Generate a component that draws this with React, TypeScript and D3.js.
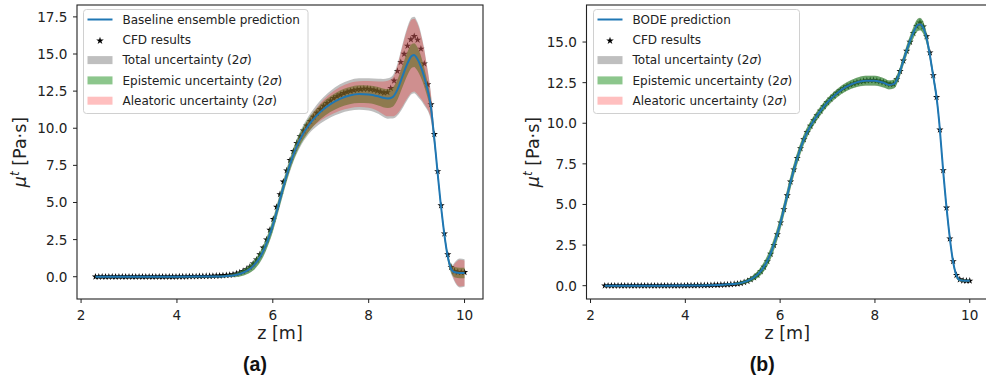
import React from 'react';
import * as d3 from 'd3';

// ---------- data ----------
const cfdZ = [
  2.30, 2.37, 2.44, 2.51, 2.58, 2.65, 2.72, 2.79, 2.86, 2.93, 3.00, 3.07, 3.14, 3.21, 3.28, 3.35, 3.42, 3.49, 3.56, 3.63,
  3.70, 3.77, 3.84, 3.91, 3.98, 4.05, 4.12, 4.19, 4.26, 4.33, 4.40, 4.47, 4.54, 4.61, 4.68, 4.75, 4.82, 4.89, 4.96, 5.03,
  5.10, 5.17, 5.24, 5.31, 5.38, 5.45, 5.52, 5.59, 5.66, 5.73, 5.80, 5.87, 5.94, 6.01, 6.08, 6.15, 6.22, 6.29, 6.36, 6.43,
  6.50, 6.57, 6.64, 6.71, 6.78, 6.85, 6.92, 6.99, 7.06, 7.13, 7.20, 7.27, 7.34, 7.41, 7.48, 7.55, 7.62, 7.69, 7.76, 7.83,
  7.90, 7.97, 8.04, 8.11, 8.18, 8.25, 8.32, 8.39, 8.46, 8.53, 8.60, 8.67, 8.74, 8.81, 8.88, 8.95, 9.02, 9.09, 9.16, 9.23,
  9.30, 9.37, 9.44, 9.51, 9.58, 9.65, 9.72, 9.79, 9.86, 9.93, 10.00,
];
const cfdMu = [
  0, 0, 0, 0, 0, 0, 0, 0, 0, 0, 0, 0, 0, 0, 0, 0, 0, 0, 0, 0,
  0, 0, 0, 0, 0, 0.01, 0.01, 0.01, 0.02, 0.02, 0.02, 0.03, 0.03, 0.04, 0.04, 0.05, 0.06, 0.07, 0.08, 0.1,
  0.12, 0.15, 0.21, 0.28, 0.38, 0.5, 0.66, 0.88, 1.15, 1.5, 1.95, 2.5, 3.15, 3.88, 4.7, 5.55, 6.4, 7.15, 7.85, 8.45,
  9.0, 9.45, 9.83, 10.17, 10.48, 10.76, 11.03, 11.28, 11.5, 11.69, 11.86, 12.02, 12.15, 12.26, 12.36, 12.44, 12.51, 12.56, 12.6, 12.63,
  12.65, 12.65, 12.62, 12.58, 12.52, 12.45, 12.39, 12.42, 12.7, 13.2, 13.85, 14.45, 15.0, 15.55, 15.98, 16.2, 15.95, 15.35, 14.35, 12.95,
  11.6, 9.6, 7.1, 4.8, 2.9, 1.5, 0.65, 0.38, 0.31, 0.3, 0.3,
];

const predZ = [
  2.3, 3.0, 3.5, 4.0, 4.5, 4.8, 5.0, 5.2, 5.4, 5.5, 5.6, 5.7, 5.8, 5.9, 6.0, 6.1, 6.2, 6.3, 6.4, 6.5,
  6.6, 6.7, 6.8, 6.9, 7.0, 7.2, 7.4, 7.6, 7.8, 8.0, 8.2, 8.3, 8.4, 8.5, 8.6, 8.7, 8.8, 8.9, 8.95, 9.0,
  9.05, 9.1, 9.15, 9.2, 9.25, 9.3, 9.35, 9.4, 9.45, 9.5, 9.55, 9.6, 9.65, 9.7, 9.75, 9.8, 9.9, 10.0,
];

// (a) baseline ensemble
const baseMean = [
  0, 0, 0, 0, 0.01, 0.02, 0.04, 0.1, 0.3, 0.48, 0.75, 1.15, 1.72, 2.5, 3.45, 4.6, 5.8, 6.95, 7.95, 8.78,
  9.45, 9.98, 10.43, 10.8, 11.12, 11.62, 11.98, 12.2, 12.3, 12.28, 12.15, 12.05, 12.0, 12.1, 12.6, 13.45, 14.3, 14.88, 14.93, 14.75,
  14.45, 14.05, 13.55, 12.95, 12.3, 11.4, 9.9, 8.3, 6.6, 5.0, 3.6, 2.35, 1.35, 0.7, 0.38, 0.3, 0.25, 0.25,
];
const baseEpi = [
  0.03, 0.03, 0.03, 0.03, 0.04, 0.05, 0.07, 0.12, 0.2, 0.25, 0.3, 0.33, 0.36, 0.38, 0.4, 0.4, 0.4, 0.4, 0.4, 0.42,
  0.43, 0.45, 0.46, 0.48, 0.5, 0.53, 0.56, 0.58, 0.6, 0.6, 0.62, 0.63, 0.64, 0.65, 0.68, 0.73, 0.78, 0.8, 0.8, 0.8,
  0.77, 0.72, 0.65, 0.57, 0.5, 0.42, 0.35, 0.3, 0.27, 0.25, 0.25, 0.25, 0.25, 0.25, 0.3, 0.35, 0.35, 0.35,
];
const baseAle = [
  0.02, 0.02, 0.02, 0.02, 0.02, 0.03, 0.04, 0.06, 0.08, 0.1, 0.12, 0.13, 0.14, 0.15, 0.16, 0.18, 0.2, 0.22, 0.25, 0.28,
  0.32, 0.38, 0.45, 0.52, 0.6, 0.72, 0.8, 0.85, 0.87, 0.9, 1.0, 1.1, 1.2, 1.3, 1.6, 2.0, 2.3, 2.45, 2.45, 2.4,
  2.3, 2.1, 1.85, 1.5, 1.15, 0.8, 0.5, 0.3, 0.2, 0.15, 0.13, 0.12, 0.12, 0.15, 0.3, 0.6, 0.9, 0.85,
];
const baseTot = [
  0.04, 0.04, 0.04, 0.04, 0.05, 0.06, 0.08, 0.13, 0.22, 0.27, 0.32, 0.35, 0.39, 0.41, 0.43, 0.44, 0.45, 0.46, 0.47, 0.5,
  0.54, 0.59, 0.64, 0.71, 0.78, 0.89, 0.98, 1.03, 1.06, 1.08, 1.18, 1.27, 1.36, 1.45, 1.74, 2.13, 2.43, 2.58, 2.58, 2.53,
  2.43, 2.22, 1.96, 1.6, 1.25, 0.9, 0.61, 0.42, 0.34, 0.29, 0.28, 0.28, 0.28, 0.29, 0.42, 0.69, 0.97, 0.92,
];

// (b) BODE
const bodeMean = [
  0, 0, 0, 0.01, 0.03, 0.06, 0.1, 0.19, 0.42, 0.62, 0.93, 1.37, 1.99, 2.82, 3.8, 4.95, 6.15, 7.25, 8.2, 9.0,
  9.62, 10.12, 10.56, 10.95, 11.3, 11.85, 12.25, 12.5, 12.62, 12.62, 12.47, 12.36, 12.42, 12.95, 13.85, 14.75, 15.5, 16.05, 16.1, 15.98,
  15.65, 15.1, 14.35, 13.45, 12.55, 11.6, 10.25, 8.5, 6.7, 5.1, 3.7, 2.45, 1.45, 0.8, 0.45, 0.34, 0.3, 0.3,
];
const bodeEpi = [
  0.03, 0.03, 0.03, 0.03, 0.04, 0.05, 0.06, 0.1, 0.15, 0.2, 0.25, 0.3, 0.35, 0.38, 0.4, 0.4, 0.4, 0.38, 0.35, 0.32,
  0.3, 0.28, 0.27, 0.26, 0.25, 0.25, 0.26, 0.28, 0.3, 0.3, 0.28, 0.27, 0.27, 0.28, 0.3, 0.32, 0.34, 0.37, 0.38, 0.37,
  0.35, 0.33, 0.3, 0.28, 0.27, 0.27, 0.27, 0.27, 0.27, 0.27, 0.25, 0.22, 0.18, 0.14, 0.1, 0.07, 0.06, 0.06,
];
const bodeAle = [
  0.02, 0.02, 0.02, 0.02, 0.02, 0.02, 0.02, 0.04, 0.04, 0.04, 0.04, 0.04, 0.04, 0.04, 0.06, 0.06, 0.06, 0.06, 0.06, 0.06,
  0.06, 0.06, 0.06, 0.06, 0.06, 0.06, 0.06, 0.06, 0.06, 0.06, 0.06, 0.06, 0.06, 0.06, 0.06, 0.06, 0.06, 0.08, 0.08, 0.08,
  0.08, 0.08, 0.08, 0.08, 0.08, 0.08, 0.06, 0.06, 0.06, 0.06, 0.06, 0.06, 0.06, 0.06, 0.04, 0.04, 0.04, 0.04,
];
const bodeTot = [
  0.04, 0.04, 0.04, 0.04, 0.05, 0.05, 0.06, 0.11, 0.16, 0.2, 0.25, 0.3, 0.35, 0.38, 0.4, 0.4, 0.4, 0.38, 0.36, 0.33,
  0.31, 0.29, 0.28, 0.27, 0.26, 0.26, 0.27, 0.29, 0.31, 0.31, 0.29, 0.28, 0.28, 0.29, 0.31, 0.33, 0.35, 0.38, 0.39, 0.38,
  0.36, 0.34, 0.31, 0.29, 0.28, 0.28, 0.28, 0.28, 0.28, 0.28, 0.26, 0.23, 0.19, 0.15, 0.11, 0.08, 0.07, 0.07,
];

const xTicks = [2, 4, 6, 8, 10];
const yTicksA = [0, 2.5, 5, 7.5, 10, 12.5, 15, 17.5];
const yTicksB = [0, 2.5, 5, 7.5, 10, 12.5, 15];
const legendLabelsA = ['Baseline ensemble prediction', 'CFD results', 'Total uncertainty', 'Epistemic uncertainty', 'Aleatoric uncertainty'];
const legendLabelsB = ['BODE prediction', 'CFD results', 'Total uncertainty', 'Epistemic uncertainty', 'Aleatoric uncertainty'];

// ---------- styling ----------
const FONT = 'DejaVu Sans, sans-serif';
const BLUE = '#1f77b4';
const bandStyles = [
  { color: 'gray', opacity: 0.5 },
  { color: 'green', opacity: 0.45 },
  { color: 'red', opacity: 0.25 },
];

type Cfg = {
  left: number; right: number; top: number; bottom: number;
  xRangeRight: number;
  xDomain: [number, number]; yDomain: [number, number];
  mean: number[]; tot: number[]; epi: number[]; ale: number[];
  yTicks: number[]; labels: string[];
  legend: { x: number; y: number; w: number; h: number };
  ylabelX: number; letter: string;
};

function Panel({ cfg }: { cfg: Cfg }) {
  const x = d3.scaleLinear().domain(cfg.xDomain).range([cfg.left, cfg.xRangeRight]);
  const y = d3.scaleLinear().domain(cfg.yDomain).range([cfg.bottom, cfg.top]);
  const idx = d3.range(predZ.length);
  const band = (hw: number[]) =>
    d3.area<number>()
      .x((i) => x(predZ[i]))
      .y0((i) => y(cfg.mean[i] - hw[i]))
      .y1((i) => y(cfg.mean[i] + hw[i]))
      .curve(d3.curveMonotoneX)(idx) || '';
  const linePath = d3.line<number>()
    .x((i) => x(predZ[i]))
    .y((i) => y(cfg.mean[i]))
    .curve(d3.curveMonotoneX)(idx) || '';
  const star = d3.symbol().type(d3.symbolStar).size(16)() || '';
  const starLeg = d3.symbol().type(d3.symbolStar).size(18)() || '';
  const bands = [cfg.tot, cfg.epi, cfg.ale];
  const axisCx = (cfg.left + cfg.right) / 2;
  const cy = (cfg.top + cfg.bottom) / 2;
  const L = cfg.legend;
  const rowY = (k: number) => L.y + 10 + k * 20.3;
  const hx0 = L.x + 4;
  const hx1 = L.x + 29;
  const tx = L.x + 39;

  return (
    <g>
      {/* CFD stars (below bands) */}
      <g fill="black">
        {cfdZ.map((z, i) => (
          <path key={i} d={star} transform={`translate(${x(z)},${y(cfdMu[i])})`} />
        ))}
      </g>
      {/* uncertainty bands */}
      {bands.map((b, k) => (
        <path key={k} d={band(b)} fill={bandStyles[k].color} fillOpacity={bandStyles[k].opacity} stroke="none" />
      ))}
      {/* prediction line */}
      <path d={linePath} fill="none" stroke={BLUE} strokeWidth={2} />

      {/* frame */}
      <rect x={cfg.left} y={cfg.top} width={cfg.right - cfg.left} height={cfg.bottom - cfg.top}
        fill="none" stroke="#222" strokeWidth={1.1} />

      {/* x ticks */}
      {xTicks.map((t) => (
        <g key={t}>
          <line x1={x(t)} x2={x(t)} y1={cfg.bottom} y2={cfg.bottom + 4} stroke="#222" strokeWidth={1} />
          <text x={x(t)} y={cfg.bottom + 20.5} textAnchor="middle" fontFamily={FONT} fontSize={13.6} fill="#222">{t}</text>
        </g>
      ))}
      {/* y ticks */}
      {cfg.yTicks.map((t) => (
        <g key={t}>
          <line x1={cfg.left - 4} x2={cfg.left} y1={y(t)} y2={y(t)} stroke="#222" strokeWidth={1} />
          <text x={cfg.left - 9.5} y={y(t)} dy="0.36em" textAnchor="end" fontFamily={FONT} fontSize={13.6} fill="#222">{t.toFixed(1)}</text>
        </g>
      ))}

      {/* axis labels */}
      <text x={axisCx} y={338.5} textAnchor="middle" fontFamily={FONT} fontSize={17.5} fill="#222">z [m]</text>
      <text transform={`translate(${cfg.ylabelX},${cy}) rotate(-90)`} textAnchor="middle" fontFamily={FONT} fontSize={17.5} fill="#222">
        <tspan fontStyle="italic">μ</tspan>
        <tspan fontStyle="italic" fontSize={12} dy={-7}>t</tspan>
        <tspan dy={7}> [Pa·s]</tspan>
      </text>
      <text x={axisCx - 25} y={371} textAnchor="middle" fontFamily="Liberation Sans, Arial, sans-serif" fontWeight="bold" fontSize={19.5} fill="#111">{cfg.letter}</text>

      {/* legend */}
      <rect x={L.x} y={L.y} width={L.w} height={L.h} rx={3} ry={3} fill="white" fillOpacity={0.8} stroke="#d0d0d0" strokeWidth={1} />
      <line x1={hx0} x2={hx1} y1={rowY(0)} y2={rowY(0)} stroke={BLUE} strokeWidth={2} />
      <path d={starLeg} transform={`translate(${(hx0 + hx1) / 2},${rowY(1) + 1})`} fill="black" />
      {bandStyles.map((s, k) => (
        <rect key={k} x={hx0} y={rowY(k + 2) - 4} width={hx1 - hx0} height={8} fill={s.color} fillOpacity={s.opacity} />
      ))}
      {cfg.labels.map((lab, k) => (
        <text key={k} x={tx} y={rowY(k)} dy="0.36em" fontFamily={FONT} fontSize={12} fill="#222">
          {lab}
          {k >= 2 ? (
            <>
              <tspan> (2</tspan>
              <tspan fontStyle="italic">σ</tspan>
              <tspan>)</tspan>
            </>
          ) : null}
        </text>
      ))}
    </g>
  );
}

export default function App() {
  const cfgA: Cfg = {
    left: 77, right: 483, top: 5, bottom: 299, xRangeRight: 483,
    xDomain: [1.915, 10.385], yDomain: [-1.5, 18.3],
    mean: baseMean, tot: baseTot, epi: baseEpi, ale: baseAle,
    yTicks: yTicksA, labels: legendLabelsA,
    legend: { x: 83.5, y: 9.5, w: 224.5, h: 104 },
    ylabelX: 26, letter: '(a)',
  };
  const cfgB: Cfg = {
    left: 586.5, right: 988, top: 5, bottom: 299, xRangeRight: 988,
    xDomain: [1.915, 10.385], yDomain: [-0.82, 17.28],
    mean: bodeMean, tot: bodeTot, epi: bodeEpi, ale: bodeAle,
    yTicks: yTicksB, labels: legendLabelsB,
    legend: { x: 593.5, y: 9.5, w: 206, h: 104 },
    ylabelX: 539, letter: '(b)',
  };
  return (
    <svg width={986} height={383} style={{ position: 'absolute', left: 0, top: 0, background: 'white' }}>
      <rect width={986} height={383} fill="white" />
      <Panel cfg={cfgA} />
      <Panel cfg={cfgB} />
    </svg>
  );
}
